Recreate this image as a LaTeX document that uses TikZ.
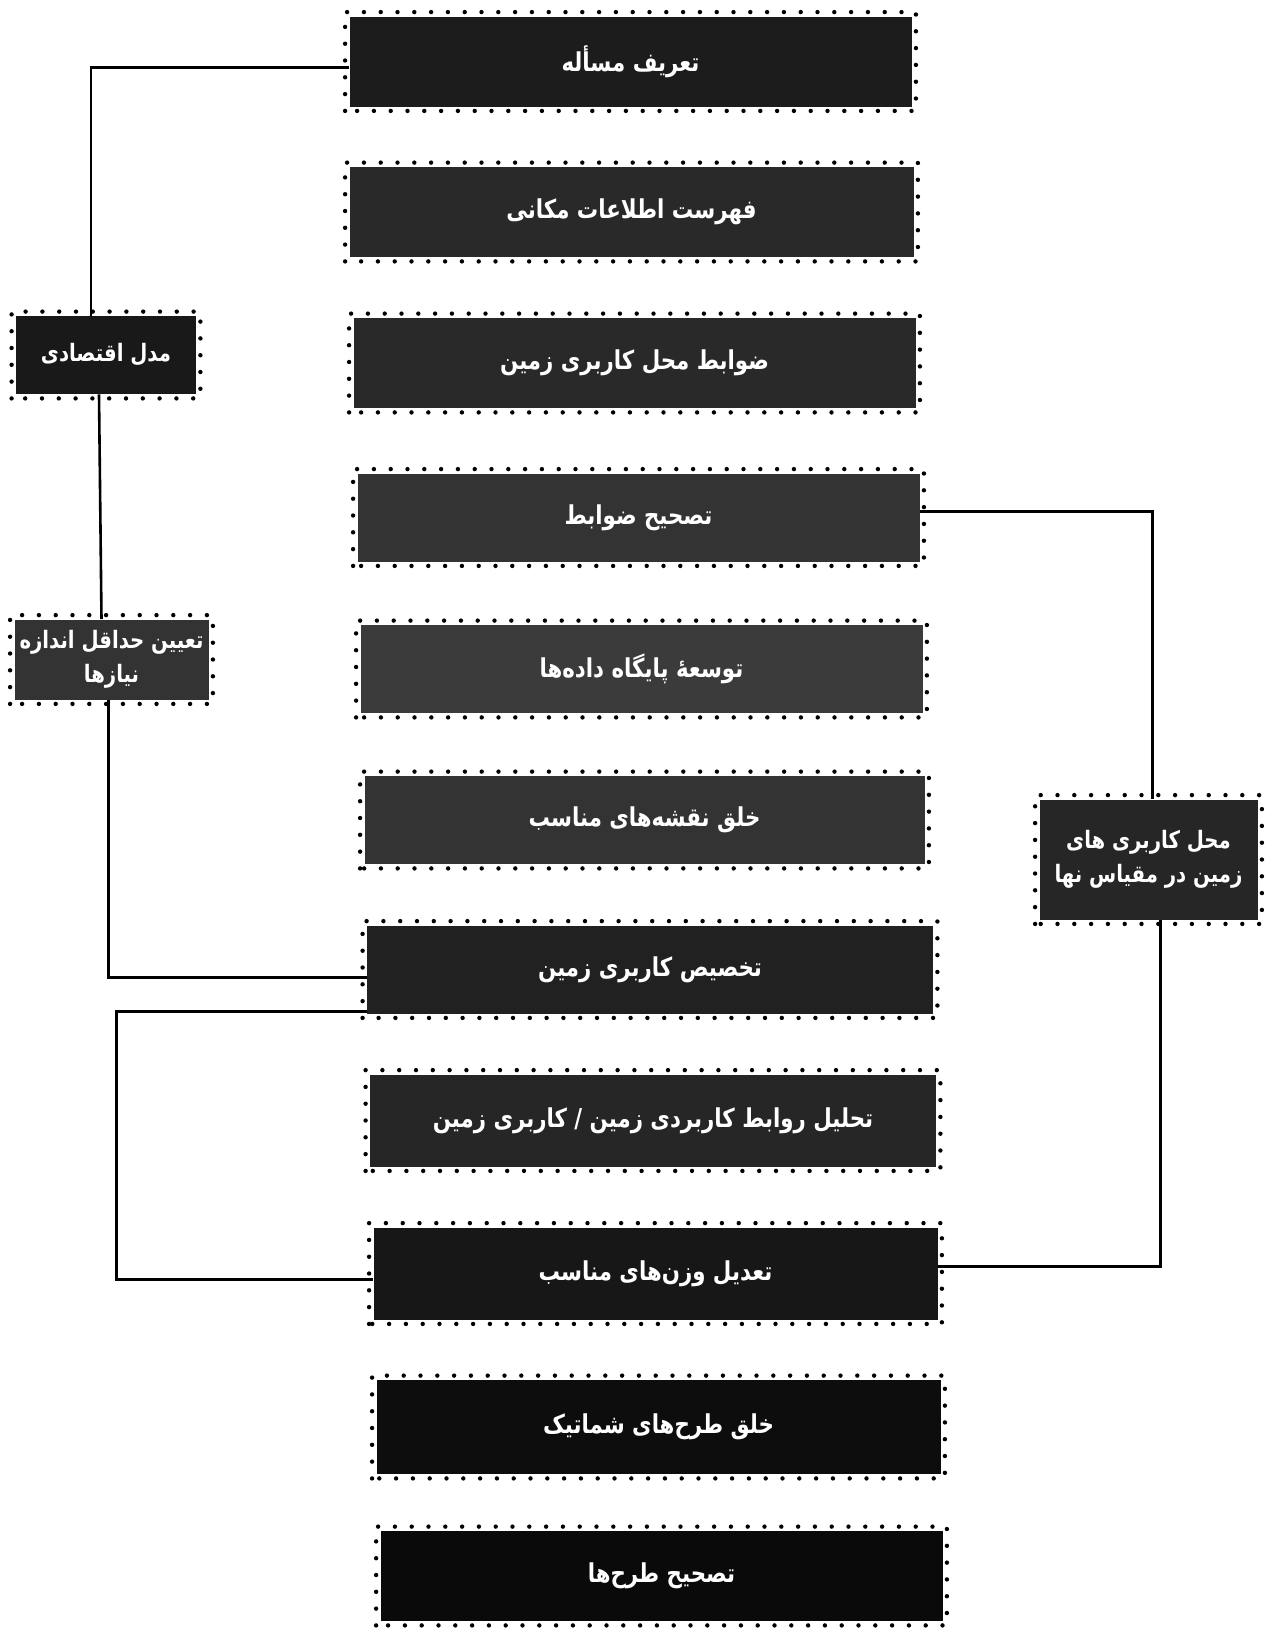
\documentclass[tikz,border=0pt]{standalone}
\usepackage{fontspec}
\newfontfamily\farsi[Script=Arabic, FakeStretch=0.82]{DejaVu Sans}
\TeXXeTstate=1
\usetikzlibrary{calc}
\tikzset{
  box/.style={fill=#1, draw=none, text=white, inner sep=2pt,
    font=\farsi\bfseries\fontsize{13}{18}\selectfont, align=center},
  smallbox/.style={box=#1, inner sep=0pt,
    font=\farsi\bfseries\fontsize{12}{17}\selectfont},
  dotframe/.style={draw=black, line width=2.2pt, line cap=round,
    dash pattern=on 0pt off 8.4pt},
  conn/.style={draw=black, line width=1.3pt}
}
\begin{document}
\begin{tikzpicture}[x=0.5pt,y=-0.5pt]
\useasboundingbox[fill=white] (0,0) rectangle (1267,1629);
% main column
\node[box=black!89, minimum width=281pt, minimum height=45pt] (b1) at (630.5,61.5) {\beginR تعریف مسأله\endR};
\node[box=black!84, minimum width=282pt, minimum height=45pt] (b2) at (631.5,212) {\beginR فهرست اطلاعات مکانی\endR};
\node[box=black!84, minimum width=281pt, minimum height=45pt] (b3) at (634.5,363) {\beginR ضوابط محل کاربری زمین\endR};
\node[box=black!80, minimum width=281pt, minimum height=44pt] (b4) at (638.5,517.5) {\beginR تصحیح ضوابط\endR};
\node[box=black!77, minimum width=281pt, minimum height=44pt] (b5) at (641.5,669) {\beginR توسعهٔ پایگاه داده‌ها\endR};
\node[box=black!80, minimum width=280pt, minimum height=44pt] (b6) at (644.5,820) {\beginR خلق نقشه‌های مناسب\endR};
\node[box=black!87, minimum width=283pt, minimum height=44pt] (b7) at (650,969.5) {\beginR تخصیص کاربری زمین\endR};
\node[box=black!85, minimum width=283pt, minimum height=46pt] (b8) at (653,1120.5) {\beginR تحلیل روابط کاربردی زمین / کاربری زمین\endR};
\node[box=black!91, minimum width=282pt, minimum height=46pt] (b9) at (655.5,1273.5) {\beginR تعدیل وزن‌های مناسب\endR};
\node[box=black!95, minimum width=282pt, minimum height=47pt] (b10) at (658.5,1427) {\beginR خلق طرح‌های شماتیک\endR};
\node[box=black!96, minimum width=281pt, minimum height=45pt] (b11) at (661.5,1576) {\beginR تصحیح طرح‌ها\endR};
% side boxes
\node[smallbox=black!90, minimum width=90pt, minimum height=39pt] (L1) at (106,355) {\beginR مدل اقتصادی\endR};
\node[smallbox=black!80, minimum width=97pt, minimum height=40pt] (L2) at (111.5,659.5) {\beginR تعیین حداقل اندازه\endR\\\beginR نیازها\endR};
\node[smallbox=black!85, minimum width=109pt, minimum height=60pt] (R) at (1148.5,859.5) {\beginR محل کاربری های\endR\\\beginR زمین در مقیاس نها\endR};
% connectors
\draw[conn] ([yshift=-3pt]b1.west) -| ([xshift=-7.5pt]L1.north);
\draw[conn] ([xshift=-3.5pt]L1.south) -- ([xshift=-5pt]L2.north);
\draw[conn] ([xshift=-1.5pt]L2.south) |- ([yshift=-4pt]b7.west);
\draw[conn] ([yshift=-21pt]b7.west) -- ++(-250,0) |- ([yshift=-3pt]b9.west);
\draw[conn] ([yshift=3pt]b4.east) -| ([xshift=2pt]R.north);
\draw[conn] ([xshift=6pt]R.south) |- ([yshift=3.5pt]b9.east);
% dotted frames
\foreach \n in {b1,b2,b3,b4,b5,b6,b7,b8,b9,b10,b11,L1,L2,R}
  \draw[dotframe] ([shift={(-2pt,-2pt)}]\n.south west) rectangle ([shift={(2pt,2pt)}]\n.north east);
\end{tikzpicture}
\end{document}
